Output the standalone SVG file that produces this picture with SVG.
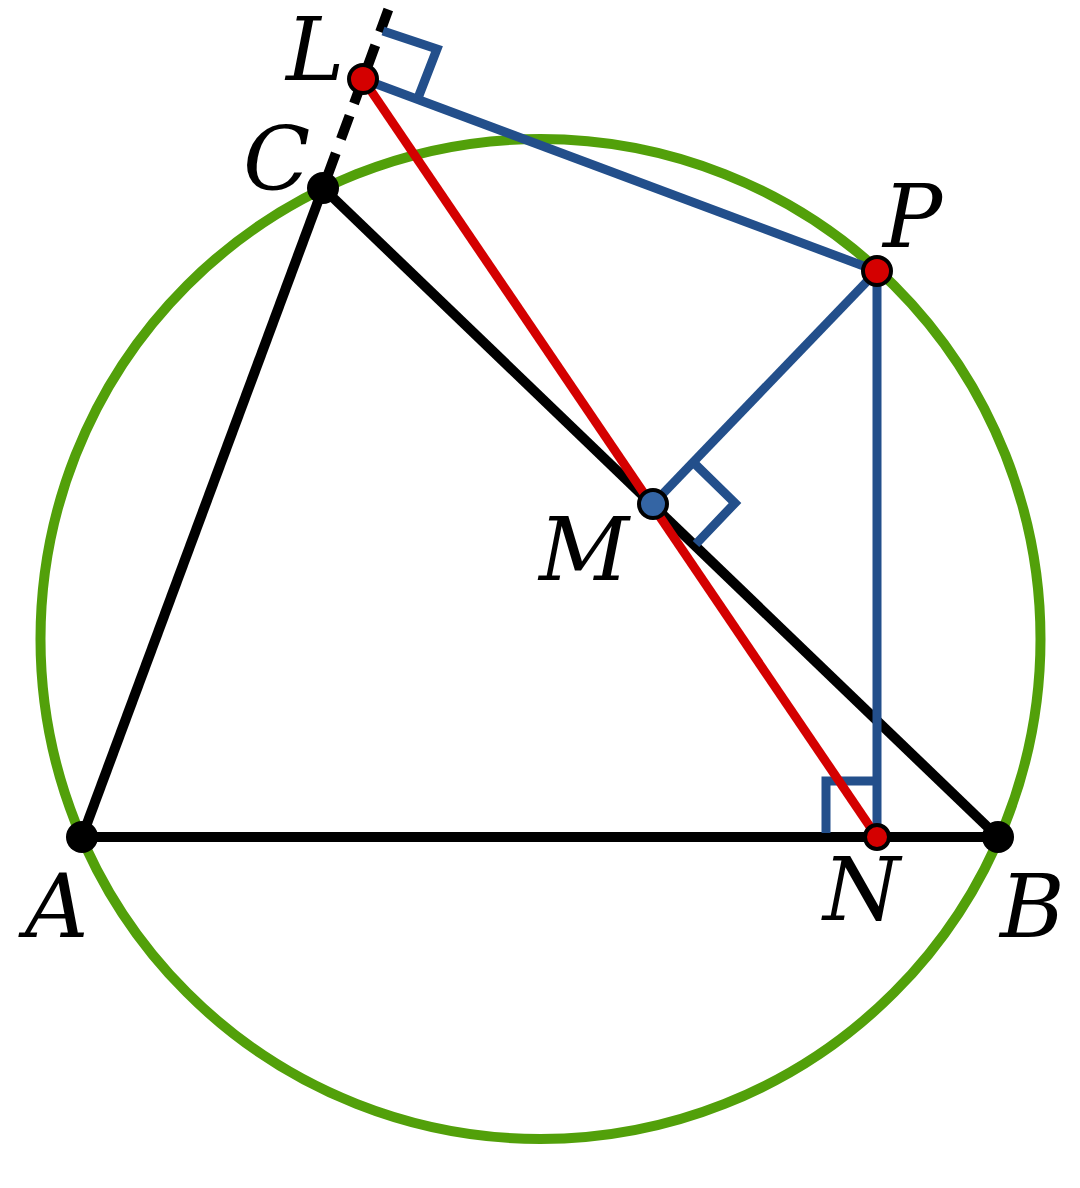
<svg xmlns="http://www.w3.org/2000/svg" width="1080" height="1188" viewBox="0 0 1080 1188">
<style>
.lbl{font-family:"DejaVu Serif","Liberation Serif",serif;font-style:italic;font-size:88px;fill:#000}
.blk{stroke:#000;stroke-width:10;fill:none;stroke-linecap:butt}
.blu{stroke:#234f8b;stroke-width:9;fill:none}
.red{stroke:#d40000;stroke-width:9;fill:none}
.ptb{fill:#000}
.ptr{fill:#d40000;stroke:#000;stroke-width:4}
.ptm{fill:#3465a4;stroke:#000;stroke-width:4}
</style>
<rect width="1080" height="1188" fill="#fff"/>
<g id="circle"><circle cx="540.5" cy="639" r="500" fill="none" stroke="#52a00a" stroke-width="10"/></g>
<g id="connectors">
<line class="blk" x1="82" y1="837" x2="998" y2="837"/>
<line class="blk" x1="82" y1="837" x2="323" y2="188"/>
<line class="blk" x1="323" y1="188" x2="998" y2="837"/>
<path class="blk" d="M363 79 L388.5 9" stroke-dasharray="36 14 24 100"/>
<path class="blk" d="M363 79 L323 188" stroke-dasharray="26 13 25 15 100"/>
<line class="blu" x1="363" y1="79" x2="877" y2="271"/>
<line class="blu" x1="653" y1="504" x2="877" y2="271"/>
<line class="blu" x1="877" y1="271" x2="877" y2="837"/>
<polyline class="blu" points="383,31 437,49 418,98"/>
<polyline class="blu" points="693,462 735,503 696,544"/>
<polyline class="blu" points="826,833 826,781 877,781"/>
<line class="red" x1="363" y1="79" x2="877" y2="837"/>
</g>
<g id="A"><circle class="ptb" cx="82" cy="837" r="16"/><text class="lbl" x="25" y="937">A</text></g>
<g id="B"><circle class="ptb" cx="998" cy="837" r="16"/><text class="lbl" x="1000" y="937">B</text></g>
<g id="C"><circle class="ptb" cx="323" cy="188" r="16"/><text class="lbl" x="243" y="190">C</text></g>
<g id="L"><circle class="ptr" cx="363" cy="79" r="14"/><text class="lbl" x="286" y="80">L</text></g>
<g id="P"><circle class="ptr" cx="877" cy="271" r="14"/><text class="lbl" x="883" y="247">P</text></g>
<g id="M"><circle class="ptm" cx="653" cy="504" r="14"/><text class="lbl" x="539" y="580">M</text></g>
<g id="N"><circle class="ptr" cx="877" cy="837" r="12"/><text class="lbl" x="823" y="920">N</text></g>
</svg>
